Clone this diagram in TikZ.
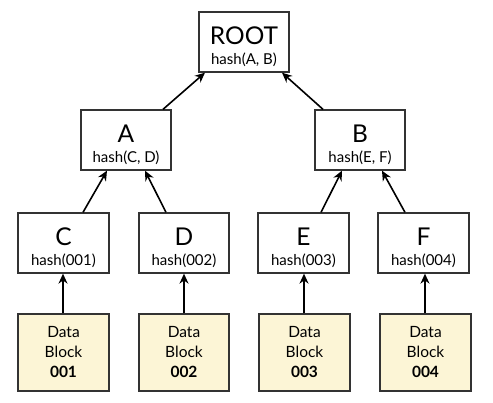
\documentclass[tikz,border=0pt]{standalone}
\usepackage{fontspec}
\setmainfont{Lato}
\usetikzlibrary{arrows.meta}
\definecolor{datafill}{HTML}{FCF5D6}
\definecolor{edge}{HTML}{333333}
\begin{document}
\begin{tikzpicture}[x=1pt,y=-1pt,
  hnode/.style={draw=edge,line width=1.3pt,fill=white,minimum width=90pt,minimum height=60pt,inner sep=0pt,align=center,font=\fontsize{15}{18}\selectfont},
  dnode/.style={draw=edge,line width=1.3pt,fill=datafill,minimum width=91pt,minimum height=77pt,inner sep=0pt,align=center,font=\fontsize{15.5}{20}\selectfont},
  conn/.style={line width=1.6pt,-{Stealth[length=10pt,width=9pt]}}]
\useasboundingbox (0,0) rectangle (493,402);
\newcommand{\hlabel}[2]{{\fontsize{24.5}{27}\selectfont\rule{0pt}{27pt}#1}\\[2pt]#2}
\node[hnode] (root) at (244,42) {\hlabel{ROOT}{hash(A, B)}};
\node[hnode] (A) at (126,140) {\hlabel{A}{hash(C, D)}};
\node[hnode] (B) at (360,140) {\hlabel{B}{hash(E, F)}};
\node[hnode,minimum width=91pt] (C) at (63.5,243) {\hlabel{C}{hash(001)}};
\node[hnode] (D) at (184,243) {\hlabel{D}{hash(002)}};
\node[hnode,minimum width=91pt] (E) at (303.5,243) {\hlabel{E}{hash(003)}};
\node[hnode,minimum width=91pt] (F) at (423.5,243) {\hlabel{F}{hash(004)}};
\node[dnode] (d1) at (63.5,352.5) {Data\\Block\\\textbf{001}};
\node[dnode,minimum width=90pt] (d2) at (184,352.5) {Data\\Block\\\textbf{002}};
\node[dnode] (d3) at (304.5,352.5) {Data\\Block\\\textbf{003}};
\node[dnode] (d4) at (425.5,352.5) {Data\\Block\\\textbf{004}};
\draw[conn] ([xshift=37pt]A.north) -- ([xshift=-39pt]root.south);
\draw[conn] ([xshift=-37pt]B.north) -- ([xshift=38pt]root.south);
\draw[conn] ([xshift=19.5pt]C.north) -- ([xshift=-19pt]A.south);
\draw[conn] ([xshift=-18pt]D.north) -- ([xshift=19pt]A.south);
\draw[conn] ([xshift=17.5pt]E.north) -- ([xshift=-18pt]B.south);
\draw[conn] ([xshift=-18.5pt]F.north) -- ([xshift=22pt]B.south);
\draw[conn] ([xshift=-0.5pt]d1.north) -- ([xshift=-0.5pt]d1.north |- C.south);
\draw[conn] (d2.north) -- (d2.north |- D.south);
\draw[conn] ([xshift=-0.5pt]d3.north) -- ([xshift=-0.5pt]d3.north |- E.south);
\draw[conn] ([xshift=-0.5pt]d4.north) -- ([xshift=-0.5pt]d4.north |- F.south);
\end{tikzpicture}
\end{document}
